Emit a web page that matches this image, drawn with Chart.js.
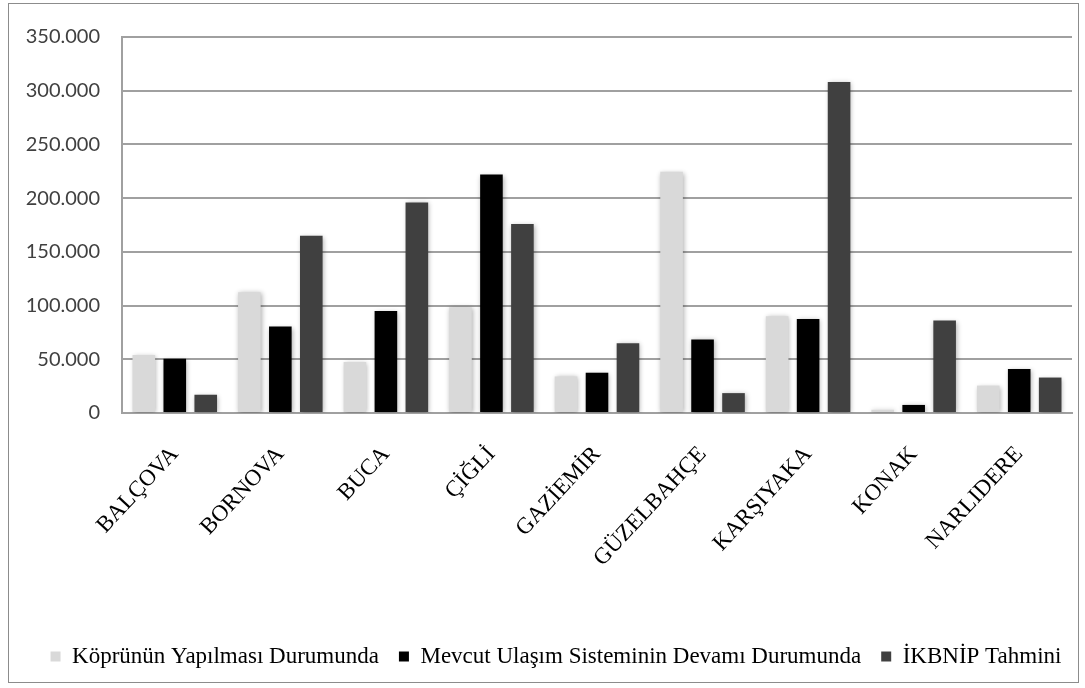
<!DOCTYPE html>
<html>
<head>
<meta charset="utf-8">
<script src="https://cdn.jsdelivr.net/npm/chart.js@4.4.1/dist/chart.umd.min.js"></script>
<style>
  html, body { margin: 0; padding: 0; background: #ffffff; }
  #wrap { width: 1085px; height: 688px; position: relative; }
</style>
</head>
<body>
<div id="wrap"><canvas id="chart" width="1085" height="688"></canvas></div>
<script>
// Districts of İzmir
const categories = ['BALÇOVA', 'BORNOVA', 'BUCA', 'ÇİĞLİ', 'GAZİEMİR', 'GÜZELBAHÇE', 'KARŞIYAKA', 'KONAK', 'NARLIDERE'];

// Series
const seriesNames = ['Köprünün Yapılması Durumunda', 'Mevcut Ulaşım Sisteminin Devamı Durumunda', 'İKBNİP Tahmini'];
const kopruValues = [54000, 112500, 47500, 98500, 34000, 224500, 90000, 3000, 25500];
const mevcutValues = [50500, 80500, 95000, 222000, 37500, 68500, 87500, 7500, 41000];
const ikbnipValues = [17000, 165000, 196000, 176000, 65000, 18500, 308000, 86000, 33000];

// Value axis
const yMin = 0;
const yMax = 350000;
const yStep = 50000;

function dotThousands(v) {
  return String(v).replace(/\B(?=(\d{3})+(?!\d))/g, '.');
}

const SERIF = "'Liberation Serif', 'Times New Roman', serif";
const SANS = "Lato, 'Open Sans', sans-serif";

Chart.defaults.font.family = SERIF;
Chart.defaults.font.size = 22;
Chart.defaults.color = '#000000';

// Soft drop shadow behind the bars
const barShadow = {
  id: 'barShadow',
  beforeDatasetsDraw(chart) {
    const ctx = chart.ctx;
    ctx.save();
    ctx.shadowColor = 'rgba(0,0,0,0.32)';
    ctx.shadowBlur = 5;
    ctx.shadowOffsetX = 1;
    ctx.shadowOffsetY = 1;
  },
  afterDatasetsDraw(chart) {
    chart.ctx.restore();
  }
};

// White background and thin outer frame
const frame = {
  id: 'frame',
  beforeDraw(chart) {
    const ctx = chart.ctx;
    ctx.save();
    ctx.fillStyle = '#ffffff';
    ctx.fillRect(0, 0, chart.width, chart.height);
    ctx.strokeStyle = '#8c8c8c';
    ctx.lineWidth = 1;
    ctx.strokeRect(8.5, 3.5, 1070, 679);
    ctx.restore();
  }
};

// Nudge the legend row a little to the right
const legendShift = {
  id: 'legendShift',
  afterLayout(chart) {
    if (chart.legend) {
      chart.legend.left += 15;
      chart.legend.right += 15;
    }
  }
};

new Chart(document.getElementById('chart'), {
  type: 'bar',
  data: {
    labels: categories,
    datasets: [
      { label: seriesNames[0], data: kopruValues, backgroundColor: '#d9d9d9' },
      { label: seriesNames[1], data: mevcutValues, backgroundColor: '#000000' },
      { label: seriesNames[2], data: ikbnipValues, backgroundColor: '#404040' }
    ]
  },
  options: {
    responsive: false,
    animation: false,
    devicePixelRatio: 1,
    datasets: {
      bar: { categoryPercentage: 0.88, barPercentage: 0.73, borderWidth: 0 }
    },
    layout: { padding: { left: 10, right: 13, top: 37, bottom: 10 } },
    plugins: {
      legend: {
        position: 'bottom',
        labels: {
          color: '#000000',
          font: { family: SERIF, size: 23, style: 'normal' },
          boxWidth: 10,
          boxHeight: 10,
          padding: 20
        }
      },
      tooltip: { enabled: false }
    },
    scales: {
      x: {
        grid: { display: false, drawTicks: false },
        border: { display: true, color: '#a0a0a0', width: 2 },
        ticks: {
          color: '#000000',
          font: { family: SERIF, size: 23 },
          maxRotation: 47,
          minRotation: 47,
          padding: 28
        },
        afterFit(scale) { scale.height = 212; }
      },
      y: {
        min: yMin,
        max: yMax,
        grid: { color: '#a0a0a0', lineWidth: 2, drawTicks: false },
        border: { display: true, color: '#a0a0a0', width: 2 },
        ticks: {
          stepSize: yStep,
          color: '#404040',
          font: { family: SANS, size: 20 },
          padding: 22,
          callback: (v) => dotThousands(v)
        },
        afterFit(scale) { scale.width = 112; }
      }
    }
  },
  plugins: [frame, barShadow, legendShift]
});
</script>
</body>
</html>
